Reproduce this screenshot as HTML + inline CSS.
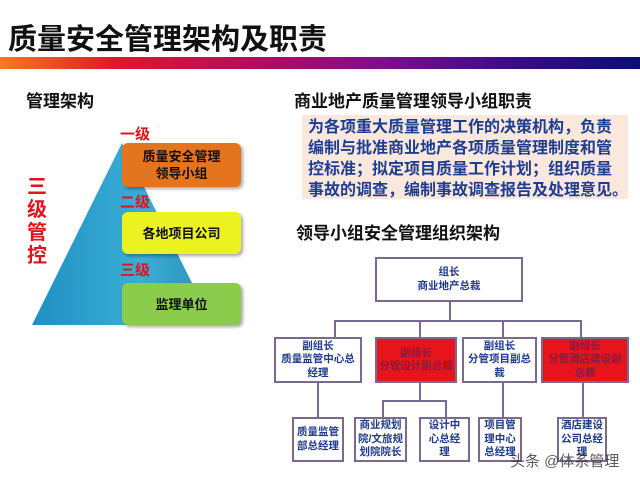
<!DOCTYPE html>
<html><head><meta charset="utf-8"><style>
body{margin:0;width:640px;height:480px;background:#fff;position:relative;overflow:hidden;font-family:"Liberation Sans","Noto Sans CJK SC",sans-serif;font-weight:bold}
.a{position:absolute;white-space:nowrap}
.bx{position:absolute;box-sizing:border-box;border:2px solid #7a6a8e;background:#fff;display:flex;align-items:center;justify-content:center;text-align:center;font-size:10.5px;line-height:13.5px;color:#1f3a8a;overflow:hidden}
.red{background:#e8141c;color:#8a1a3a}
.ln{position:absolute;background:#7a6a8e}
.lv{position:absolute;text-align:center;font-size:13px;line-height:17px;color:#111;border-radius:6px;display:flex;align-items:center;justify-content:center;box-shadow:2px 2px 3px rgba(0,0,0,.35)}
</style></head><body>
<div class="a" style="left:8px;top:16px;font-size:29px;color:#111">质量安全管理架构及职责</div>
<div class="a" style="left:0;top:57px;width:640px;height:12px;background:linear-gradient(90deg,#f57a20 0%,#e5142a 18%,#b80a5e 40%,#7a0f8a 60%,#3a0d85 80%,#0a0f72 100%)"></div>
<div class="a" style="left:26px;top:87px;font-size:17px;color:#111">管理架构</div>
<div class="a" style="left:294px;top:87px;font-size:17px;color:#111">商业地产质量管理领导小组职责</div>
<div class="a" style="left:302px;top:115px;width:326px;height:84px;background:#fbe8dc"></div>
<div class="a" style="left:308px;top:117px;font-size:16px;line-height:21px;color:#1d3d92">为各项重大质量管理工作的决策机构，负责<br>编制与批准商业地产各项质量管理制度和管<br>控标准；拟定项目质量工作计划；组织质量<br>事故的调查，编制事故调查报告及处理意见。</div>
<div class="a" style="left:296px;top:219px;font-size:17px;color:#111">领导小组安全管理组织架构</div>

<svg class="a" style="left:0;top:0" width="640" height="480"><defs><linearGradient id="g" x1="0" y1="0" x2="1" y2="0"><stop offset="0" stop-color="#1f8fc0"/><stop offset=".6" stop-color="#3aaed8"/><stop offset="1" stop-color="#2a8fb8"/></linearGradient></defs>
<polygon points="122,143 32,325 213,325" fill="url(#g)"/></svg>
<div class="a" style="left:120px;top:123px;font-size:15px;color:#e0141c">一级</div>
<div class="a" style="left:120px;top:191px;font-size:15px;color:#e0141c">二级</div>
<div class="a" style="left:120px;top:259px;font-size:15px;color:#e0141c">三级</div>
<div class="a" style="left:27px;top:176px;font-size:20px;line-height:23px;color:#e0141c;white-space:normal;width:22px">三级管控</div>
<div class="lv" style="left:122px;top:143px;width:119px;height:44px;background:#e5741f">质量安全管理<br>领导小组</div>
<div class="lv" style="left:122px;top:212px;width:119px;height:42px;background:#eaf220">各地项目公司</div>
<div class="lv" style="left:122px;top:283px;width:119px;height:42px;background:#8ccc4c">监理单位</div>

<div class="ln" style="left:449px;top:302px;width:2px;height:19px"></div>
<div class="ln" style="left:334px;top:320px;width:248px;height:2px"></div>
<div class="ln" style="left:334px;top:320px;width:2px;height:17px"></div>
<div class="ln" style="left:419px;top:320px;width:2px;height:17px"></div>
<div class="ln" style="left:502px;top:320px;width:2px;height:17px"></div>
<div class="ln" style="left:580px;top:320px;width:2px;height:17px"></div>
<div class="ln" style="left:317px;top:383px;width:2px;height:34px"></div>
<div class="ln" style="left:419px;top:383px;width:2px;height:18px"></div>
<div class="ln" style="left:382px;top:400px;width:64px;height:2px"></div>
<div class="ln" style="left:382px;top:400px;width:2px;height:17px"></div>
<div class="ln" style="left:445px;top:400px;width:2px;height:17px"></div>
<div class="ln" style="left:502px;top:383px;width:2px;height:34px"></div>
<div class="ln" style="left:582px;top:383px;width:2px;height:34px"></div>

<div class="bx" style="left:375px;top:257px;width:148px;height:45px">组长<br>商业地产总裁</div>
<div class="bx" style="left:274px;top:337px;width:88px;height:46px">副组长<br>质量监管中心总<br>经理</div>
<div class="bx red" style="left:375px;top:337px;width:82px;height:46px">副组长<br>分管设计副总裁</div>
<div class="bx" style="left:462px;top:337px;width:75px;height:46px">副组长<br>分管项目副总<br>裁</div>
<div class="bx red" style="left:541px;top:337px;width:88px;height:46px">副组长<br>分管酒店建设副<br>总裁</div>
<div class="bx" style="left:292px;top:417px;width:52px;height:45px">质量监管<br>部总经理</div>
<div class="bx" style="left:354px;top:417px;width:53px;height:45px">商业规划<br>院/文旅规<br>划院院长</div>
<div class="bx" style="left:419px;top:417px;width:51px;height:45px">设计中<br>心总经<br>理</div>
<div class="bx" style="left:478px;top:417px;width:44px;height:45px">项目管<br>理中心<br>总经理</div>
<div class="bx" style="left:557px;top:417px;width:50px;height:45px">酒店建设<br>公司总经<br>理</div>
<div class="a" style="left:510px;top:450px;font-size:15px;font-weight:normal;color:#333;opacity:.8">头条 @体系管理</div>
</body></html>
